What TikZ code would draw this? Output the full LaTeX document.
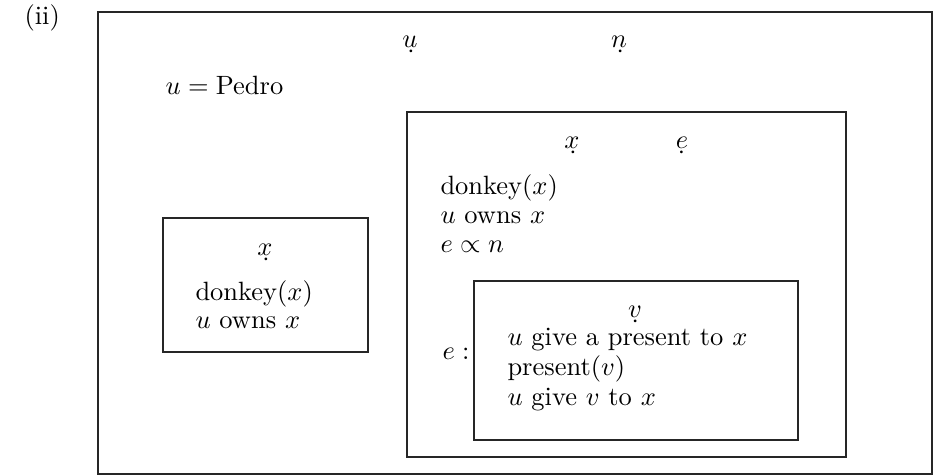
\documentclass[tikz,border=0pt]{standalone}
\usepackage{amsmath,amssymb}
\usepackage{tikz}
\usetikzlibrary{positioning}
\newcommand{\dref}[1]{\d{$#1$}}
\tikzset{
  drs/.style={draw=black!85,line width=.5pt},
  var/.style={inner sep=0pt,anchor=base},
  cond/.style={inner sep=0pt,anchor=base west},
  tag/.style={inner sep=0pt,anchor=base west},
}

\begin{document}
\begin{tikzpicture}[x=0.378pt,y=-0.378pt]
  \useasboundingbox (0,0) rectangle (935,475);
  \node[tag] (label) at (24,25) {(ii)};
  % outer box
  \coordinate (outerNW) at (98,12);  \coordinate (outerSE) at (932,474);
  \draw[drs] (outerNW) rectangle (outerSE);
  \node[var] (u) at (410,48) {\dref{u}};
  \node[var] (n) at (619,48) {\dref{n}};
  \node[cond] (pedro) at (165,95) {$u = \text{Pedro}$};
  % left box
  \coordinate (leftNW) at (163,218); \coordinate (leftSE) at (368,352);
  \draw[drs] (leftNW) rectangle (leftSE);
  \node[var] (lx) at (265,256) {\dref{x}};
  \node[cond] (ldonkey) at (195,301) {donkey$(x)$};
  \node[cond] (lowns) at (195,329) {$u$ owns $x$};
  % right box
  \coordinate (midNW) at (407,112); \coordinate (midSE) at (846,457);
  \draw[drs] (midNW) rectangle (midSE);
  \node[var] (mx) at (572,149) {\dref{x}};
  \node[var] (me) at (682,149) {\dref{e}};
  \node[cond] (mdonkey) at (440,195) {donkey$(x)$};
  \node[cond] (mowns) at (440,224) {$u$ owns $x$};
  \node[cond] (mprop) at (440,253) {$e \propto n$};
  \node[cond] (ecolon) at (442,360) {$e:$};
  % event box
  \coordinate (evNW) at (474,281); \coordinate (evSE) at (798,440);
  \draw[drs] (evNW) rectangle (evSE);
  \node[var] (v) at (635,318) {\dref{v}};
  \node[cond] (give) at (507,346) {$u$ give a present to $x$};
  \node[cond] (present) at (507,376) {present$(v)$};
  \node[cond] (givev) at (507,406) {$u$ give $v$ to $x$};
\end{tikzpicture}
\end{document}
